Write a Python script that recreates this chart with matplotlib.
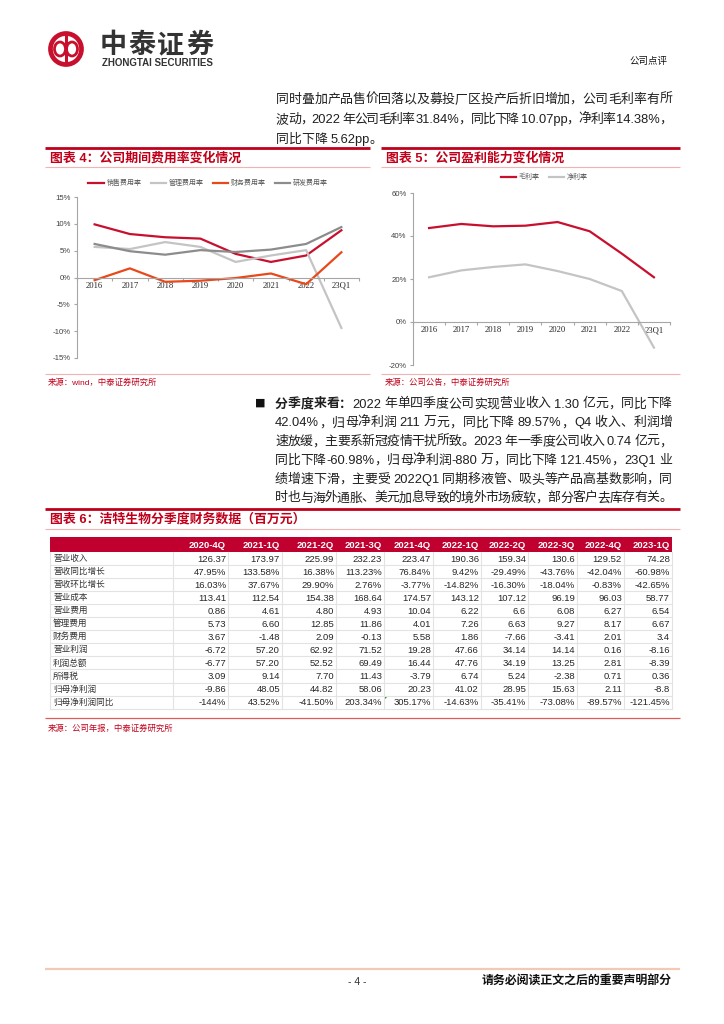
import re
import matplotlib
matplotlib.use('Agg')
import matplotlib.pyplot as plt
from matplotlib.patches import Rectangle, Circle, Ellipse, Polygon

W, H, DPI = 724, 1024, 100
RED = '#C0001A'
PINK = '#F0B4B4'
BODY = '#1F1F1F'

# chart data
years = ['2016', '2017', '2018', '2019', '2020', '2021', '2022', '23Q1']
sales_rate = [9.9, 8.1, 7.5, 7.25, 4.4, 2.9, 4.1, 8.8]
admin_rate = [5.7, 5.3, 6.6, 5.7, 2.9, 4.1, 5.1, -9.4]
fin_rate = [-0.5, 1.7, -0.8, -0.6, -0.1, 0.75, -1.25, 4.7]
rd_rate = [6.25, 4.9, 4.25, 5.1, 4.75, 5.2, 6.25, 9.4]
gross_margin = [43.7, 45.6, 44.5, 44.8, 46.5, 42.2, 31.8, 20.8]
net_margin = [20.8, 24.0, 25.6, 26.8, 23.7, 20.0, 14.4, -11.9]

# table data
quarters = ['2020-4Q', '2021-1Q', '2021-2Q', '2021-3Q', '2021-4Q',
            '2022-1Q', '2022-2Q', '2022-3Q', '2022-4Q', '2023-1Q']
row_labels = ['营业收入', '营收同比增长', '营收环比增长', '营业成本', '营业费用', '管理费用',
              '财务费用', '营业利润', '利润总额', '所得税', '归母净利润', '归母净利润同比']
revenue = ['126.37', '173.97', '225.99', '232.23', '223.47', '190.36', '159.34', '130.6', '129.52', '74.28']
rev_yoy = ['47.95%', '133.58%', '16.38%', '113.23%', '76.84%', '9.42%', '-29.49%', '-43.76%', '-42.04%', '-60.98%']
rev_qoq = ['16.03%', '37.67%', '29.90%', '2.76%', '-3.77%', '-14.82%', '-16.30%', '-18.04%', '-0.83%', '-42.65%']
cost = ['113.41', '112.54', '154.38', '168.64', '174.57', '143.12', '107.12', '96.19', '96.03', '58.77']
sell_exp = ['0.86', '4.61', '4.80', '4.93', '10.04', '6.22', '6.6', '6.08', '6.27', '6.54']
admin_exp = ['5.73', '6.60', '12.85', '11.86', '4.01', '7.26', '6.63', '9.27', '8.17', '6.67']
fin_exp = ['3.67', '-1.48', '2.09', '-0.13', '5.58', '1.86', '-7.66', '-3.41', '2.01', '3.4']
op_profit = ['-6.72', '57.20', '62.92', '71.52', '19.28', '47.66', '34.14', '14.14', '0.16', '-8.16']
total_profit = ['-6.77', '57.20', '52.52', '69.49', '16.44', '47.76', '34.19', '13.25', '2.81', '-8.39']
tax = ['3.09', '9.14', '7.70', '11.43', '-3.79', '6.74', '5.24', '-2.38', '0.71', '0.36']
net_profit = ['-9.86', '48.05', '44.82', '58.06', '20.23', '41.02', '28.95', '15.63', '2.11', '-8.8']
np_yoy = ['-144%', '43.52%', '-41.50%', '203.34%', '305.17%', '-14.63%', '-35.41%', '-73.08%', '-89.57%', '-121.45%']
table_rows = [revenue, rev_yoy, rev_qoq, cost, sell_exp, admin_exp, fin_exp,
              op_profit, total_profit, tax, net_profit, np_yoy]

para1 = ['同时叠加产品售价回落以及募投厂区投产后折旧增加，公司毛利率有所',
         '波动，2022 年公司毛利率 31.84%，同比下降 10.07pp，净利率 14.38%，',
         '同比下降 5.62pp。']
para2 = ['2022 年单四季度公司实现营业收入 1.30 亿元，同比下降',
         '42.04%，归母净利润 211 万元，同比下降 89.57%，Q4 收入、利润增',
         '速放缓，主要系新冠疫情干扰所致。2023 年一季度公司收入 0.74 亿元，',
         '同比下降-60.98%，归母净利润-880 万，同比下降 121.45%，23Q1 业',
         '绩增速下滑，主要受 2022Q1 同期移液管、吸头等产品高基数影响，同',
         '时也与海外通胀、美元加息导致的境外市场疲软，部分客户去库存有关。']

plt.rcParams['font.family'] = ['Liberation Sans', 'Noto Sans CJK SC']
fig = plt.figure(figsize=(W / DPI, H / DPI), dpi=DPI)
page = fig.add_axes([0, 0, 1, 1])
page.set_xlim(0, W)
page.set_ylim(H, 0)
page.axis('off')
renderer = fig.canvas.get_renderer()

TOK = re.compile(r'[\x21-\x7e]+| |[^\x00-\x7f]')


def hline(y, x0, x1, color, lw):
    page.plot([x0, x1], [y, y], color=color, lw=lw, solid_capstyle='butt')


def fam(tk):
    return ['Liberation Sans'] if tk.isascii() else ['Noto Sans CJK SC']


def text_line(segs, x0, y, x1=None, size=9.3, color=BODY):
    # lay out tokens one by one so the line can be justified
    items = [(tk, w) for s, w in segs for tk in TOK.findall(s)]
    widths = []
    for tk, wgt in items:
        if tk == ' ':
            widths.append(size * 0.25 * DPI / 72)
        else:
            t = page.text(0, 0, tk, fontsize=size, fontweight=wgt, family=fam(tk))
            widths.append(t.get_window_extent(renderer).width)
            t.remove()
    gap = 0
    if x1 is not None and len(items) > 1:
        gap = (x1 - x0 - sum(widths)) / (len(items) - 1)
    x = x0
    for (tk, wgt), w in zip(items, widths):
        if tk != ' ':
            page.text(x, y, tk, fontsize=size, fontweight=wgt, color=color,
                      family=fam(tk), ha='left', va='baseline')
        x += w + gap


# header
page.add_patch(Circle((66, 49), 15.5, fill=False, ec='#C8102E', lw=3.4))
page.add_patch(Ellipse((60, 49), 11, 14, fill=False, ec='#C8102E', lw=2))
page.add_patch(Ellipse((72, 49), 11, 14, fill=False, ec='#C8102E', lw=2))
page.plot([66, 66], [35, 63], color='#C8102E', lw=2.2)
text_line([('中泰证券', 'bold')], 100, 53, 213, size=19.5, color='#333333')
page.text(102, 63.5, 'ZHONGTAI SECURITIES', fontsize=7, fontweight='bold',
          color='#333333', ha='left', va='center')
page.text(668, 61, '公司点评', fontsize=6.8, color='#111111', ha='right', va='center',
          family=['Noto Sans CJK SC'])

# first paragraph
for i, s in enumerate(para1):
    text_line([(s, 'normal')], 276, 103 + 20 * i, None if i == 2 else 672)

# chart boxes
for x0, x1, title in [(45, 370, '图表 4：公司期间费用率变化情况'),
                      (381, 680, '图表 5：公司盈利能力变化情况')]:
    hline(148, x0, x1, RED, 2)
    page.text(x0 + 5, 158, title, fontsize=9.3, fontweight='bold', color=RED,
              ha='left', va='center')
    hline(166.5, x0, x1, PINK, 0.8)
    hline(374, x0, x1, PINK, 0.8)
page.text(48, 383, '来源：wind，中泰证券研究所', fontsize=6, color=RED, va='center')
page.text(385, 383, '来源：公司公告，中泰证券研究所', fontsize=6, color=RED, va='center')

# second paragraph
page.text(255, 403, '■', fontsize=8, color='#111111', ha='left', va='center',
          family=['DejaVu Sans'])
for i, s in enumerate(para2):
    segs = [(s, 'normal')]
    if i == 0:
        segs = [('分季度来看：', 'bold')] + segs
    text_line(segs, 275, 407.5 + 18.8 * i, 672)

# table title
hline(509, 45, 680, RED, 2)
page.text(50, 519.5, '图表 6：洁特生物分季度财务数据（百万元）', fontsize=9.3,
          fontweight='bold', color=RED, ha='left', va='center')
hline(529, 45, 680, PINK, 0.8)

# table
col_edges = [173, 228, 282, 336, 384, 433, 481, 528, 577, 624, 672]
tab_left, head_top, head_bot, row_h = 50, 537, 552, 13.05
page.add_patch(Rectangle((tab_left, head_top), col_edges[-1] - tab_left,
                         head_bot - head_top, color='#C0002F', lw=0))
for j, q in enumerate(quarters):
    page.text(col_edges[j + 1] - 2, (head_top + head_bot) / 2 + 0.5, q, fontsize=6.8,
              fontweight='bold', color='white', ha='right', va='center')
tab_bot = head_bot + row_h * len(row_labels)
for k in range(1, len(row_labels) + 1):
    hline(head_bot + row_h * k, tab_left, col_edges[-1], '#E3E3E3', 0.8)
for x in [tab_left] + col_edges:
    page.plot([x, x], [head_bot, tab_bot], color='#E3E3E3', lw=0.8)
for i, (lab, vals) in enumerate(zip(row_labels, table_rows)):
    yc = head_bot + row_h * (i + 0.5)
    page.text(tab_left + 3, yc, lab, fontsize=6.2, color='#333333', ha='left',
              va='center', family=['Noto Sans CJK SC'])
    for j, v in enumerate(vals):
        page.text(col_edges[j + 1] - 2, yc + 0.5, v, fontsize=6.8, color='#262626',
                  ha='right', va='center')
cy = head_bot + row_h * 11
page.add_patch(Polygon([(col_edges[4] + 0.5, cy + 0.5), (col_edges[4] + 4, cy + 0.5),
                        (col_edges[4] + 0.5, cy + 4)], color='#1E8C1E', lw=0))
hline(718, 45, 680, '#E25A5A', 0.9)
page.text(48, 729, '来源：公司年报，中泰证券研究所', fontsize=6, color=RED, va='center')

# footer
hline(969, 45, 680, '#F2C9B4', 1.6)
page.text(357, 982, '- 4 -', fontsize=7.5, color='#333333', ha='center', va='center')
page.text(672, 982, '请务必阅读正文之后的重要声明部分', fontsize=8.6, fontweight='bold',
          color='#111111', ha='right', va='center')


def add_box(x0, y0, x1, y1):
    return fig.add_axes([x0 / W, 1 - y1 / H, (x1 - x0) / W, (y1 - y0) / H])


def style(ax, lo, hi, step):
    ax.patch.set_alpha(0)
    ax.set_xlim(-0.5, len(years) - 0.5)
    ax.set_ylim(lo, hi)
    ticks = list(range(lo, hi + 1, step))
    ax.set_yticks(ticks)
    ax.set_yticklabels([f'{t}%' for t in ticks])
    ax.spines[['top', 'right']].set_visible(False)
    ax.spines['bottom'].set_position(('data', 0))
    for s in ['left', 'bottom']:
        ax.spines[s].set_color('#A6A6A6')
        ax.spines[s].set_linewidth(0.8)
    ax.set_xticks(range(len(years)))
    ax.set_xticklabels(years, fontfamily='Liberation Serif', fontsize=6.2,
                       color='#262626')
    ax.set_xticks([i - 0.5 for i in range(len(years) + 1)], minor=True)
    ax.tick_params(axis='x', which='major', length=0, pad=3)
    ax.tick_params(axis='x', which='minor', length=2.5, color='#A6A6A6', width=0.8)
    ax.tick_params(axis='y', length=2.5, color='#A6A6A6', width=0.8, labelsize=5.6,
                   labelcolor='#404040', pad=2)


leg_kw = dict(loc='center', frameon=False, handlelength=2.2, handletextpad=0.4,
              columnspacing=1.3, labelcolor='#595959',
              prop={'family': ['Noto Sans CJK SC'], 'size': 5})

ax4 = add_box(77, 197, 359, 358)
style(ax4, -15, 15, 5)
ax4.plot(range(8), sales_rate, color='#C8102E', lw=1.6, label='销售费用率')
ax4.plot(range(8), admin_rate, color='#C4C4C4', lw=1.6, label='管理费用率')
ax4.plot(range(8), fin_rate, color='#E8481A', lw=1.6, label='财务费用率')
ax4.plot(range(8), rd_rate, color='#8C8C8C', lw=1.6, label='研发费用率')
ax4.legend(ncol=4, bbox_to_anchor=(0.465, 1.087), **leg_kw)

ax5 = add_box(413, 193, 670, 365)
style(ax5, -20, 60, 20)
ax5.plot(range(8), gross_margin, color='#C8102E', lw=1.6, label='毛利率')
ax5.plot(range(8), net_margin, color='#C4C4C4', lw=1.6, label='净利率')
ax5.legend(ncol=2, bbox_to_anchor=(0.51, 1.093), **leg_kw)

fig.savefig('out.png', dpi=DPI)
